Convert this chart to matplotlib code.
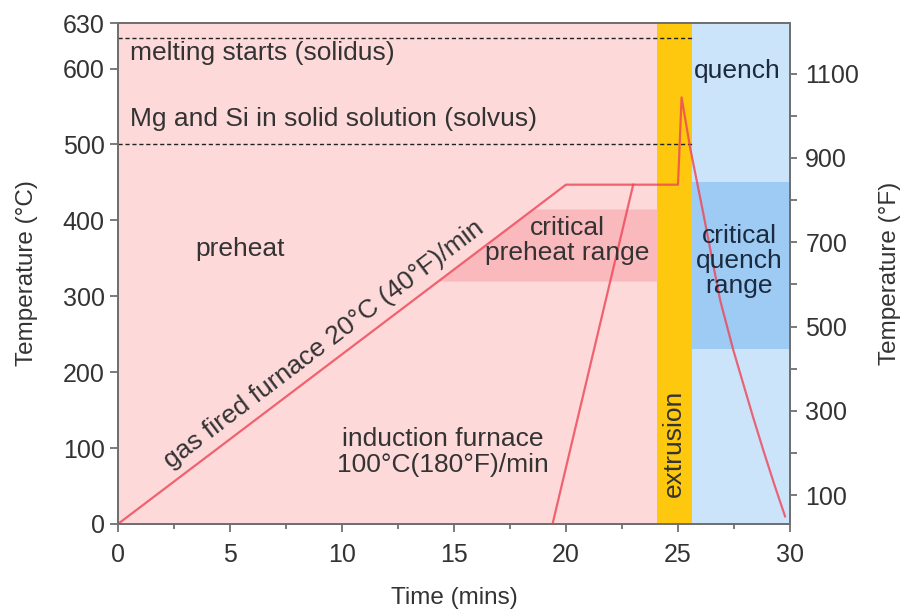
import math
import numpy as np
import matplotlib
matplotlib.use("Agg")
import matplotlib.pyplot as plt

plt.rcParams['font.family'] = ['Liberation Sans', 'DejaVu Sans']

# temperature profile (deg C vs minutes)
profile_time = [0, 20.0, 25.0, 25.16, 25.54, 26.13, 26.88, 27.47, 27.91, 28.35,
                28.81, 29.3, 29.78]
profile_temp = [0, 447, 447, 562, 496, 409, 295, 229, 185, 141, 97, 52, 10]

induction_time = [19.4, 23.0]
induction_temp = [0, 447]

solidus = 640
solvus = 500
extrusion_span = (24.06, 25.63)
quench_end = 30
crit_preheat = (320, 415)
crit_quench = (230, 450)

c_ticks = [0, 100, 200, 300, 400, 500, 600, 660]
c_labels = ['0', '100', '200', '300', '400', '500', '600', '630']
f_major = [100, 300, 500, 700, 900, 1100]
f_minor = [200, 400, 600, 800, 1000]
x_major = [0, 5, 10, 15, 20, 25, 30]


def c2f(c):
    return c * 9.0 / 5.0 + 32.0


fig = plt.figure(figsize=(9.04, 6.15), dpi=100)
ax = fig.add_axes([0.1305, 0.148, 0.7434, 0.8146])
ymax = c_ticks[-1]
ax.set_xlim(0, 30)
ax.set_ylim(0, ymax)

# background regions
ax.axvspan(0, extrusion_span[0], color='#fdd9da', lw=0, zorder=0)
ax.axvspan(extrusion_span[0], extrusion_span[1], color='#fdc80e', lw=0, zorder=0)
ax.axvspan(extrusion_span[1], quench_end, color='#cce4fa', lw=0, zorder=0)
ax.fill_between([extrusion_span[1], quench_end], crit_quench[0], crit_quench[1],
                color='#9ecbf3', lw=0, zorder=1)

# critical preheat band, only right of the gas furnace ramp
slope = profile_temp[1] / profile_time[1]
yb = np.linspace(crit_preheat[0], crit_preheat[1], 20)
ax.fill_betweenx(yb, yb / slope, extrusion_span[0], color='#f9b9bd', lw=0, zorder=1)

# solidus / solvus
ax.plot([0, extrusion_span[1]], [solidus, solidus], color='#222222', lw=1,
        ls=(0, (3, 2)), zorder=3)
ax.plot([0, extrusion_span[1]], [solvus, solvus], color='#222222', lw=1,
        ls=(0, (3, 2)), zorder=3)

# temperature curves
ax.plot(profile_time, profile_temp, color='#ee4455', lw=1.6, alpha=0.8, zorder=4)
ax.plot(induction_time, induction_temp, color='#ee4455', lw=1.6, alpha=0.8, zorder=4)

txt = dict(fontsize=19, color='#333333', zorder=5)
ax.text(0.55, 620, 'melting starts (solidus)', ha='left', va='center', **txt)
ax.text(0.55, 534, 'Mg and Si in solid solution (solvus)', ha='left', va='center', **txt)
ax.text(5.45, 362, 'preheat', ha='center', va='center', **txt)

p1 = ax.transData.transform((0, 0))
p2 = ax.transData.transform((profile_time[1], profile_temp[1]))
ang = math.degrees(math.atan2(p2[1] - p1[1], p2[0] - p1[0]))
ax.text(9.2, 236, 'gas fired furnace 20°C (40°F)/min', ha='center', va='center',
        rotation=ang, rotation_mode='anchor', **txt)
ax.text(20.05, 374, 'critical\npreheat range', ha='center', va='center',
        linespacing=1.05, **txt)
ax.text(14.5, 95, 'induction furnace\n100°C(180°F)/min', ha='center', va='center',
        linespacing=1.1, **txt)
ax.text(24.8, 106, 'extrusion', ha='center', va='center', rotation=90, **txt)
ax.text(27.63, 597, 'quench', ha='center', va='center', fontsize=19,
        color='#1c2a40', zorder=5)
ax.text(27.72, 347, 'critical\nquench\nrange', ha='center', va='center',
        linespacing=1.05, fontsize=19, color='#1c2a40', zorder=5)

# axes styling
spine_c = '#707070'
for s in ax.spines.values():
    s.set_color(spine_c)
    s.set_linewidth(1.4)
ax.set_xticks(x_major)
ax.set_xticks(np.arange(2.5, 30, 5), minor=True)
ax.set_yticks(c_ticks)
ax.set_yticklabels(c_labels)
ax.tick_params(axis='both', which='major', labelsize=18, colors='#333333',
               length=6, width=1.3, direction='out')
ax.tick_params(axis='both', which='major', color=spine_c)
ax.tick_params(axis='x', which='major', pad=8)
ax.tick_params(axis='x', which='minor', length=3.5, width=1.3, color=spine_c)
ax.tick_params(axis='y', which='minor', left=False)
ax.set_xlabel('Time (mins)', fontsize=17.5, color='#333333', labelpad=14)
ax.set_ylabel('Temperature (°C)', fontsize=17.5, color='#333333', labelpad=18)

ax2 = ax.twinx()
ax2.set_ylim(c2f(0), c2f(ymax))
ax2.set_yticks(f_major)
ax2.set_yticks(f_minor, minor=True)
for s in ax2.spines.values():
    s.set_color(spine_c)
    s.set_linewidth(1.4)
ax2.tick_params(axis='y', which='both', labelsize=18, labelcolor='#333333',
                color=spine_c, length=5, width=1.3, direction='out', pad=6)
ax2.set_ylabel('Temperature (°F)', fontsize=17.5, color='#333333', labelpad=14)

fig.savefig('out.png', dpi=100)
